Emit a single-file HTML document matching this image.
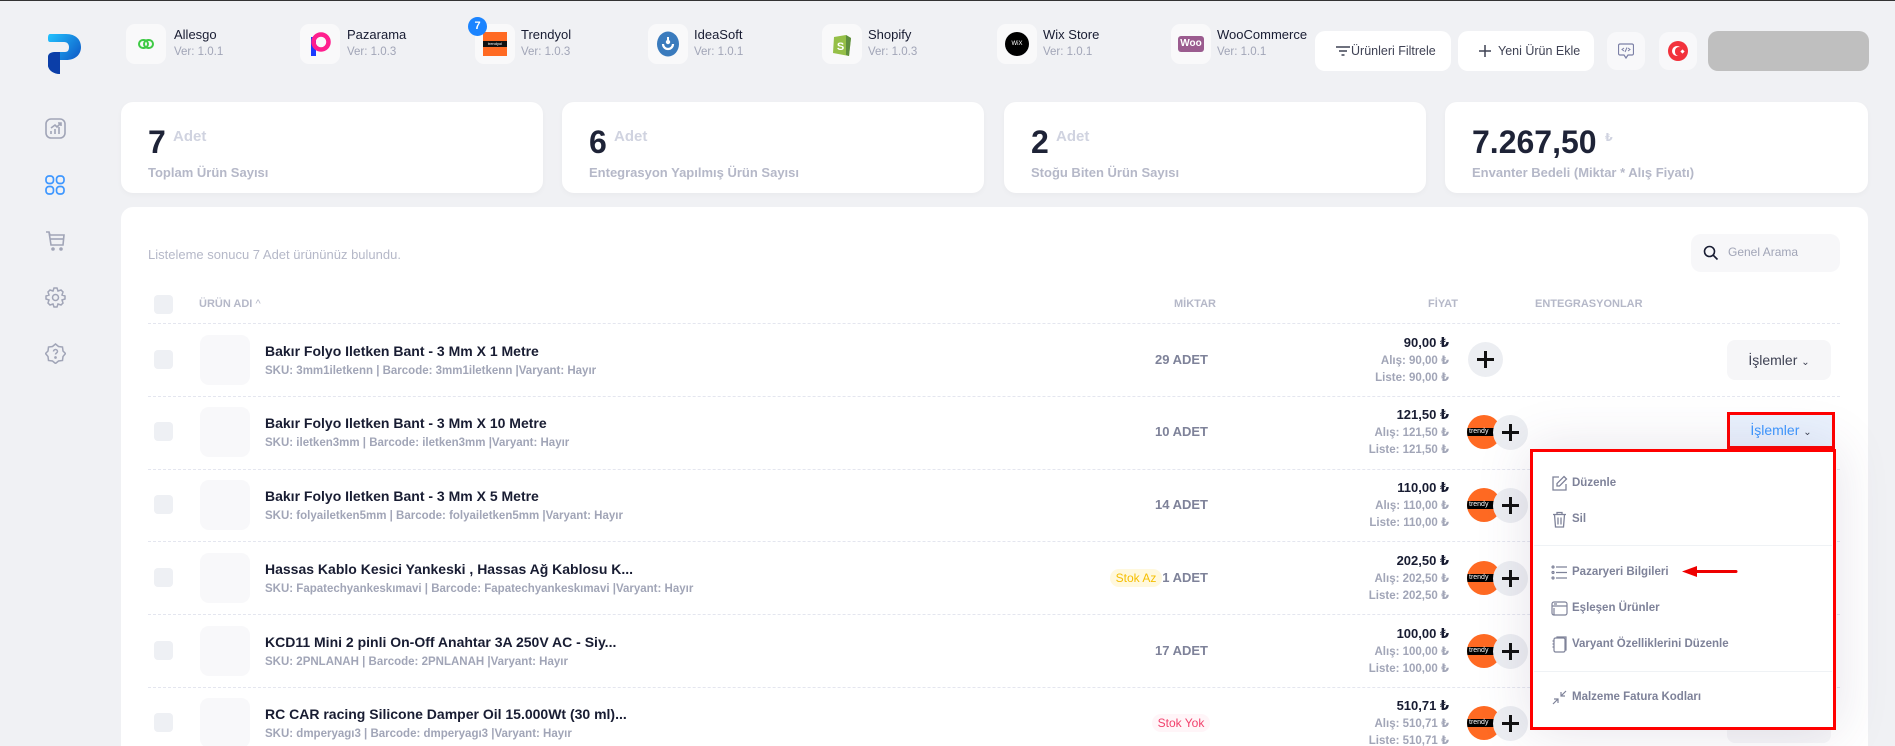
<!DOCTYPE html>
<html><head><meta charset="utf-8">
<style>
*{margin:0;padding:0;box-sizing:border-box}
html,body{width:1895px;height:746px;overflow:hidden;background:#f0f1f4;font-family:"Liberation Sans","DejaVu Sans",sans-serif}
.a{position:absolute}
#root{position:relative;width:1895px;height:746px;overflow:hidden;background:#f0f1f4}
.tile{position:absolute;top:24px;width:40px;height:40px;border-radius:9px;background:#f9f9fa;display:flex;align-items:center;justify-content:center}
.iname{position:absolute;top:27px;font-size:13px;color:#181c32;line-height:16px}
.iver{position:absolute;top:45px;font-size:11.5px;color:#a1a5b7;line-height:14px}
.card{position:absolute;top:102px;height:91px;background:#fff;border-radius:12px;box-shadow:0 2px 6px rgba(0,0,0,.03)}
.big{position:absolute;top:126px;font-size:32px;line-height:32px;font-weight:bold;color:#1e2337}
.adet{position:absolute;top:129px;font-size:15px;line-height:15px;font-weight:bold;color:#d0d3e0}
.lbl{position:absolute;top:166px;font-size:13px;line-height:13px;font-weight:bold;color:#b5b8c8}
.btn{position:absolute;top:31px;height:40px;background:#fff;border-radius:10px;font-size:12.5px;color:#3f4254;line-height:40px}
.ib{position:absolute;top:32px;width:38px;height:38px;border-radius:10px;background:#f8f8fa}
.hl{position:absolute;font-size:11px;font-weight:bold;color:#b5b8c8;line-height:14px;top:297px}
.dash{position:absolute;left:148px;width:1692px;height:0;border-top:1px dashed #e4e6ef}
.cb{position:absolute;left:154px;width:19px;height:19px;border-radius:4px;background:#eef0f4}
.img{position:absolute;left:200px;width:50px;height:50px;border-radius:9px;background:#f8f8fa}
.tt{position:absolute;left:265px;font-size:14px;font-weight:bold;color:#181c32;line-height:18px;white-space:nowrap}
.sku{position:absolute;left:265px;font-size:11.5px;font-weight:bold;color:#a1a5b7;line-height:14px;white-space:nowrap}
.qty{position:absolute;left:1000px;width:208px;text-align:right;font-size:13px;font-weight:bold;color:#7e8299;line-height:16px}
.pr{position:absolute;left:1290px;width:159px;text-align:right;white-space:nowrap}
.p1{font-size:13px;font-weight:bold;color:#181c32;line-height:16px}
.p2{font-size:11.5px;font-weight:bold;color:#a1a5b7;line-height:14px}
.plus{position:absolute;width:35px;height:35px;border-radius:50%;background:#eceef2}
.plus:before{content:"";position:absolute;left:9px;top:16px;width:17px;height:3px;background:#111}
.plus:after{content:"";position:absolute;left:16px;top:9px;width:3px;height:17px;background:#111}
.ty{position:absolute;width:34px;height:34px;border-radius:50%;background:#ff6a23;overflow:hidden}
.ty span{position:absolute;left:0;top:13px;width:30px;height:8px;background:#000;color:#fff;font-size:7px;line-height:8px;padding-left:2px}
.isl{position:absolute;left:1727px;width:104px;height:40px;border-radius:8px;background:#f6f6f8;font-size:14px;color:#3f4254;line-height:40px;text-align:center}
.badge{position:absolute;height:18px;border-radius:9px;font-size:12px;line-height:18px;text-align:center}
.di{position:absolute;left:1572px;font-size:11.5px;font-weight:bold;color:#7e8299;line-height:14px;white-space:nowrap}
.dic{position:absolute;left:1551px;width:17px;height:17px}
</style></head><body><div id="root">
<div class="a" style="left:0;top:0;width:1895px;height:1px;background:#333"></div>

<!-- logo -->
<svg class="a" style="left:46px;top:33px" width="36" height="42" viewBox="0 0 36 42">
<defs><linearGradient id="lg" x1="0" y1="0" x2="1" y2="1"><stop offset="0" stop-color="#22c3ff"/><stop offset="1" stop-color="#0a3fb8"/></linearGradient></defs>
<path d="M4 1 H20 C30 1 35 7 35 14 C35 22 29 27 20 27 H14 V41 C9 41 3 38 2 33 V24 C2 21 5 19 9 19 H19 C22 19 23 17 23 14 C23 11 21 9 18 9 H4 C2 9 2 7 2 5 C2 2 3 1 4 1 Z" fill="url(#lg)"/>
<path d="M2 24 C2 20 6 19 10 19 H14 V41 C8 41 3 38 2 33 Z" fill="#0b3ea8"/>
</svg>

<!-- sidebar icons -->
<svg class="a" style="left:45px;top:118px" width="21" height="21" viewBox="0 0 21 21" fill="none" stroke="#a1a5b7" stroke-width="1.6"><rect x="1" y="1" width="19" height="19" rx="5"/><path d="M6 16v-3M10 16v-5M14 16v-7M6 10l4-3 2 2 4-4M13 5h3v3"/></svg>
<svg class="a" style="left:45px;top:175px" width="20" height="20" viewBox="0 0 20 20" fill="none" stroke="#3e97ff" stroke-width="1.7"><rect x="1" y="1" width="7.5" height="7.5" rx="3"/><rect x="11.5" y="1" width="7.5" height="7.5" rx="3"/><rect x="1" y="11.5" width="7.5" height="7.5" rx="3"/><rect x="11.5" y="11.5" width="7.5" height="7.5" rx="3"/></svg>
<svg class="a" style="left:45px;top:230px" width="21" height="21" viewBox="0 0 21 21" fill="none" stroke="#a1a5b7" stroke-width="1.6"><path d="M1 2h3l1 3h14l-1 10H6L4 2"/><path d="M5 9h14"/><circle cx="8" cy="19" r="1" fill="#a1a5b7"/><circle cx="16" cy="19" r="1" fill="#a1a5b7"/></svg>
<svg class="a" style="left:45px;top:287px" width="21" height="21" viewBox="0 0 21 21" fill="none" stroke="#a1a5b7" stroke-width="1.5"><path d="M9 1h3l1 3 3-1 2 2-1 3 3 1v3l-3 1 1 3-2 2-3-1-1 3H9l-1-3-3 1-2-2 1-3-3-1V9l3-1-1-3 2-2 3 1z"/><circle cx="10.5" cy="10.5" r="3"/></svg>
<svg class="a" style="left:45px;top:343px" width="21" height="21" viewBox="0 0 21 21" fill="none" stroke="#a1a5b7" stroke-width="1.5"><path d="M10.5 1l3 2.5 4 .5.5 4 2.5 2.5-2.5 3-.5 4-4 .5-3 2.5-3-2.5-4-.5-.5-4L.5 10.5 3 8l.5-4 4-.5z"/><path d="M8.5 8.5c0-1.2 1-2 2-2s2 .8 2 2c0 1.5-2 1.5-2 3"/><circle cx="10.5" cy="14.5" r=".6" fill="#a1a5b7"/></svg>

<!-- integration tiles -->
<div class="tile" style="left:126px"><svg width="16" height="12" viewBox="0 0 16 12" fill="none" stroke="#3fca45" stroke-width="2"><rect x="1" y="2" width="9" height="8" rx="4"/><rect x="6" y="2" width="9" height="8" rx="4"/></svg></div>
<div class="iname" style="left:174px">Allesgo</div><div class="iver" style="left:174px">Ver: 1.0.1</div>

<div class="tile" style="left:300px"><svg width="22" height="26" viewBox="0 0 22 26"><rect x="2" y="6" width="5" height="19" fill="#1b3bff"/><circle cx="12" cy="11" r="7.5" fill="none" stroke="#ff1f8e" stroke-width="4.5"/></svg></div>
<div class="iname" style="left:347px">Pazarama</div><div class="iver" style="left:347px">Ver: 1.0.3</div>

<div class="tile" style="left:475px"><div style="width:24px;height:24px;background:#ff6a23;position:relative"><div style="position:absolute;left:0;top:9px;width:24px;height:6px;background:#111;color:#fff;font-size:4px;line-height:6px;text-align:center">trendyol</div></div></div>
<div class="a" style="left:468px;top:17px;width:19px;height:19px;border-radius:50%;background:#1b84ff;color:#fff;font-size:11px;font-weight:bold;line-height:19px;text-align:center">7</div>
<div class="iname" style="left:521px">Trendyol</div><div class="iver" style="left:521px">Ver: 1.0.3</div>

<div class="tile" style="left:648px"><svg width="24" height="26" viewBox="0 0 24 26"><ellipse cx="12" cy="13" rx="11" ry="12.5" fill="#3a7bbd"/><path d="M7 13a5 5 0 0 0 10 0" fill="none" stroke="#fff" stroke-width="2.2"/><circle cx="12" cy="11" r="2.2" fill="#fff"/><path d="M12 6v4" stroke="#fff" stroke-width="2"/></svg></div>
<div class="iname" style="left:694px">IdeaSoft</div><div class="iver" style="left:694px">Ver: 1.0.1</div>

<div class="tile" style="left:822px"><svg width="22" height="26" viewBox="0 0 22 26"><path d="M3 6l12-2 5 3-2 18-16-3z" fill="#95bf47"/><path d="M15 4l5 3-2 18-3-1z" fill="#5e8e3e"/><text x="9.5" y="19" font-size="11" font-weight="bold" fill="#fff" text-anchor="middle" font-family="Liberation Sans">S</text></svg></div>
<div class="iname" style="left:868px">Shopify</div><div class="iver" style="left:868px">Ver: 1.0.3</div>

<div class="tile" style="left:997px"><div style="width:24px;height:24px;border-radius:50%;background:#000;color:#fff;font-size:6px;line-height:24px;text-align:center">WiX</div></div>
<div class="iname" style="left:1043px">Wix Store</div><div class="iver" style="left:1043px">Ver: 1.0.1</div>

<div class="tile" style="left:1171px"><div style="width:26px;height:16px;border-radius:3px;background:#9b5c8f;color:#fff;font-size:10px;font-weight:bold;line-height:16px;text-align:center">Woo</div></div>
<div class="iname" style="left:1217px">WooCommerce</div><div class="iver" style="left:1217px">Ver: 1.0.1</div>

<!-- top buttons -->
<div class="btn" style="left:1315px;width:136px"><svg class="a" style="left:20px;top:14px" width="16" height="12" viewBox="0 0 16 12" stroke="#3f4254" stroke-width="1.4"><path d="M1 2h14M4 6h8M6.5 10h3"/></svg><span class="a" style="left:36px">Ürünleri Filtrele</span></div>
<div class="btn" style="left:1458px;width:136px"><svg class="a" style="left:21px;top:14px" width="12" height="12" viewBox="0 0 12 12" stroke="#3f4254" stroke-width="1.5"><path d="M6 0v12M0 6h12"/></svg><span class="a" style="left:40px">Yeni Ürün Ekle</span></div>
<div class="ib" style="left:1607px"><svg class="a" style="left:11px;top:11px" width="16" height="17" viewBox="0 0 16 17" fill="none" stroke="#7c80a6" stroke-width="1.2"><path d="M2 1h12a1.5 1.5 0 0 1 1.5 1.5v8A1.5 1.5 0 0 1 14 12H10l-2 3-2-3H2A1.5 1.5 0 0 1 .5 10.5v-8A1.5 1.5 0 0 1 2 1z"/><path d="M6 5l-2 1.5L6 8M10 5l2 1.5L10 8M9 4.5l-2 4.5" stroke-width="1"/></svg></div>
<div class="ib" style="left:1659px"><div class="a" style="left:9px;top:9px;width:20px;height:20px;border-radius:50%;background:#f2323c"><div class="a" style="left:4px;top:5px;width:10px;height:10px;border-radius:50%;background:#fff"></div><div class="a" style="left:6.5px;top:6px;width:8.5px;height:8.5px;border-radius:50%;background:#f2323c"></div><div class="a" style="left:13px;top:8.5px;width:3px;height:3px;background:#fff;transform:rotate(45deg)"></div></div></div>
<div class="a" style="left:1708px;top:31px;width:161px;height:40px;border-radius:10px;background:#bfbfbf"></div>

<!-- stat cards -->
<div class="card" style="left:121px;width:422px"></div>
<div class="card" style="left:562px;width:422px"></div>
<div class="card" style="left:1004px;width:422px"></div>
<div class="card" style="left:1445px;width:423px"></div>
<div class="big" style="left:148px">7</div><div class="adet" style="left:173px">Adet</div><div class="lbl" style="left:148px">Toplam Ürün Sayısı</div>
<div class="big" style="left:589px">6</div><div class="adet" style="left:614px">Adet</div><div class="lbl" style="left:589px">Entegrasyon Yapılmış Ürün Sayısı</div>
<div class="big" style="left:1031px">2</div><div class="adet" style="left:1056px">Adet</div><div class="lbl" style="left:1031px">Stoğu Biten Ürün Sayısı</div>
<div class="big" style="left:1472px">7.267,50</div><div class="adet" style="left:1605px;top:131px;font-size:11px">₺</div><div class="lbl" style="left:1472px">Envanter Bedeli (Miktar * Alış Fiyatı)</div>

<!-- main panel -->
<div class="a" style="left:121px;top:207px;width:1747px;height:560px;background:#fff;border-radius:12px"></div>
<div class="a" style="left:148px;top:247px;font-size:13px;line-height:16px;color:#b5b8c8">Listeleme sonucu 7 Adet ürününüz bulundu.</div>
<div class="a" style="left:1691px;top:234px;width:149px;height:38px;border-radius:10px;background:#f7f7f9"></div>
<svg class="a" style="left:1703px;top:245px" width="16" height="16" viewBox="0 0 16 16" fill="none" stroke="#181c32" stroke-width="1.6"><circle cx="6.5" cy="6.5" r="5"/><path d="M10 10l4.5 4.5"/></svg>
<div class="a" style="left:1728px;top:245px;font-size:12px;line-height:14px;color:#a1a5b7">Genel Arama</div>

<!-- header -->
<div class="cb" style="top:295px"></div>
<div class="hl" style="left:199px">ÜRÜN ADI <span style="font-weight:normal;font-size:11px">^</span></div>
<div class="hl" style="left:1174px">MİKTAR</div>
<div class="hl" style="left:1380px;width:78px;text-align:right">FİYAT</div>
<div class="hl" style="left:1535px">ENTEGRASYONLAR</div>
<div class="dash" style="top:323px"></div>
<div class="dash" style="top:396px"></div>
<div class="dash" style="top:469px"></div>
<div class="dash" style="top:541px"></div>
<div class="dash" style="top:614px"></div>
<div class="dash" style="top:687px"></div>

<!-- row 1 c=360 -->
<div class="cb" style="top:350px"></div><div class="img" style="top:335px"></div>
<div class="tt" style="top:342px">Bakır Folyo Iletken Bant - 3 Mm X 1 Metre</div>
<div class="sku" style="top:364px">SKU: 3mm1iletkenn | Barcode: 3mm1iletkenn |Varyant: Hayır</div>
<div class="qty" style="top:352px">29 ADET</div>
<div class="pr p1" style="top:335px">90,00 ₺</div><div class="pr p2" style="top:354px">Alış: 90,00 ₺</div><div class="pr p2" style="top:371px">Liste: 90,00 ₺</div>
<div class="plus" style="left:1468px;top:342px"></div>
<div class="isl" style="top:340px">İşlemler <span style="font-size:10px">⌄</span></div>

<!-- row 2 c=432 -->
<div class="cb" style="top:422px"></div><div class="img" style="top:407px"></div>
<div class="tt" style="top:414px">Bakır Folyo Iletken Bant - 3 Mm X 10 Metre</div>
<div class="sku" style="top:436px">SKU: iletken3mm | Barcode: iletken3mm |Varyant: Hayır</div>
<div class="qty" style="top:424px">10 ADET</div>
<div class="pr p1" style="top:407px">121,50 ₺</div><div class="pr p2" style="top:426px">Alış: 121,50 ₺</div><div class="pr p2" style="top:443px">Liste: 121,50 ₺</div>
<div class="ty" style="left:1467px;top:415px"><span>trendy</span></div><div class="plus" style="left:1493px;top:415px"></div>
<div class="a" style="left:1727px;top:412px;width:108px;height:37px;border:3px solid #ff0000;background:#e9f1fd;color:#3e97ff;font-size:14px;line-height:31px;text-align:center">İşlemler <span style="font-size:10px;color:#3f4254">⌄</span></div>

<!-- row 3 c=505 -->
<div class="cb" style="top:495px"></div><div class="img" style="top:480px"></div>
<div class="tt" style="top:487px">Bakır Folyo Iletken Bant - 3 Mm X 5 Metre</div>
<div class="sku" style="top:509px">SKU: folyailetken5mm | Barcode: folyailetken5mm |Varyant: Hayır</div>
<div class="qty" style="top:497px">14 ADET</div>
<div class="pr p1" style="top:480px">110,00 ₺</div><div class="pr p2" style="top:499px">Alış: 110,00 ₺</div><div class="pr p2" style="top:516px">Liste: 110,00 ₺</div>
<div class="ty" style="left:1467px;top:488px"><span>trendy</span></div><div class="plus" style="left:1493px;top:488px"></div>

<!-- row 4 c=578 -->
<div class="cb" style="top:568px"></div><div class="img" style="top:553px"></div>
<div class="tt" style="top:560px">Hassas Kablo Kesici Yankeski , Hassas Ağ Kablosu K...</div>
<div class="sku" style="top:582px">SKU: Fapatechyankeskımavi | Barcode: Fapatechyankeskımavi |Varyant: Hayır</div>
<div class="badge" style="left:1110px;top:569px;width:52px;background:#fff8dd;color:#f5be00">Stok Az</div>
<div class="qty" style="top:570px">1 ADET</div>
<div class="pr p1" style="top:553px">202,50 ₺</div><div class="pr p2" style="top:572px">Alış: 202,50 ₺</div><div class="pr p2" style="top:589px">Liste: 202,50 ₺</div>
<div class="ty" style="left:1467px;top:561px"><span>trendy</span></div><div class="plus" style="left:1493px;top:561px"></div>

<!-- row 5 c=651 -->
<div class="cb" style="top:641px"></div><div class="img" style="top:626px"></div>
<div class="tt" style="top:633px">KCD11 Mini 2 pinli On-Off Anahtar 3A 250V AC - Siy...</div>
<div class="sku" style="top:655px">SKU: 2PNLANAH | Barcode: 2PNLANAH |Varyant: Hayır</div>
<div class="qty" style="top:643px">17 ADET</div>
<div class="pr p1" style="top:626px">100,00 ₺</div><div class="pr p2" style="top:645px">Alış: 100,00 ₺</div><div class="pr p2" style="top:662px">Liste: 100,00 ₺</div>
<div class="ty" style="left:1467px;top:634px"><span>trendy</span></div><div class="plus" style="left:1493px;top:634px"></div>

<!-- row 6 c=723 -->
<div class="cb" style="top:713px"></div><div class="img" style="top:698px"></div>
<div class="tt" style="top:705px">RC CAR racing Silicone Damper Oil 15.000Wt (30 ml)...</div>
<div class="sku" style="top:727px">SKU: dmperyagı3 | Barcode: dmperyagı3 |Varyant: Hayır</div>
<div class="badge" style="left:1152px;top:714px;width:58px;background:#fff5f8;color:#f1416c">Stok Yok</div>
<div class="pr p1" style="top:698px">510,71 ₺</div><div class="pr p2" style="top:717px">Alış: 510,71 ₺</div><div class="pr p2" style="top:734px">Liste: 510,71 ₺</div>
<div class="ty" style="left:1467px;top:706px"><span>trendy</span></div><div class="plus" style="left:1493px;top:706px"></div>
<div class="isl" style="top:703px"></div>

<!-- dropdown -->
<div class="a" style="left:1530px;top:449px;width:306px;height:281px;border:3px solid #ff0000;background:#fff;box-shadow:0 0 50px rgba(82,63,105,.15)"></div>
<div class="a" style="left:1534px;top:545px;width:298px;height:1px;background:#eff2f5"></div>
<div class="a" style="left:1534px;top:671px;width:298px;height:1px;background:#eff2f5"></div>

<svg class="dic" style="top:475px" viewBox="0 0 17 17" fill="none" stroke="#7e8299" stroke-width="1.3"><path d="M8 2H2v13h13V9"/><path d="M13 1.5l2.5 2.5-7 7H6v-2.5z"/></svg>
<div class="di" style="top:476px">Düzenle</div>
<svg class="dic" style="top:511px" viewBox="0 0 17 17" fill="none" stroke="#7e8299" stroke-width="1.3"><path d="M2 3.5h13M6 3.5V1.5h5v2M3.5 3.5l1 12.5h8l1-12.5M7 6.5v7M10 6.5v7"/></svg>
<div class="di" style="top:512px">Sil</div>
<svg class="dic" style="top:564px" viewBox="0 0 17 17" fill="none" stroke="#7e8299" stroke-width="1.2"><circle cx="2" cy="3" r="1"/><circle cx="2" cy="8.5" r="1"/><circle cx="2" cy="14" r="1"/><path d="M5 3h11M5 8.5h11M5 14h11"/></svg>
<div class="di" style="top:565px">Pazaryeri Bilgileri</div>
<svg class="dic" style="top:600px" viewBox="0 0 17 17" fill="none" stroke="#7e8299" stroke-width="1.2"><rect x="1" y="2" width="15" height="13" rx="2"/><path d="M1 6h15M3 4h3"/><path d="M3 15V8" /></svg>
<div class="di" style="top:601px">Eşleşen Ürünler</div>
<svg class="dic" style="top:636px" viewBox="0 0 17 17" fill="none" stroke="#7e8299" stroke-width="1.2"><rect x="3" y="2" width="11" height="14" rx="1.5"/><path d="M6 2V1h9v13h-1M1.5 5h2M1.5 8h2M1.5 11h2"/></svg>
<div class="di" style="top:637px">Varyant Özelliklerini Düzenle</div>
<svg class="dic" style="top:689px" viewBox="0 0 17 17" fill="none" stroke="#7e8299" stroke-width="1.2"><path d="M10 7l5-5M10 3v4h4M7 10l-5 5M3 10h4v4"/></svg>
<div class="di" style="top:690px">Malzeme Fatura Kodları</div>

<svg class="a" style="left:1680px;top:563px" width="60" height="16" viewBox="0 0 60 16"><path d="M14 8.5H56" stroke="#ee0000" stroke-width="3" stroke-linecap="round"/><path d="M2 8.5L17 3v11z" fill="#ee0000"/></svg>

</div></body></html>
